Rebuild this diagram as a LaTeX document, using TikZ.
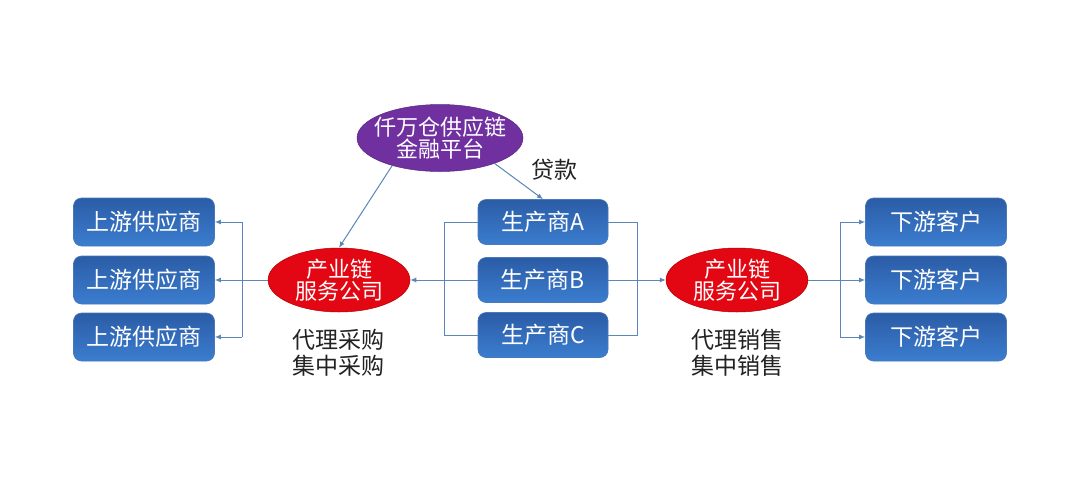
\documentclass[tikz,border=0pt]{standalone}
\usepackage{fontspec}
\setmainfont{Noto Sans CJK SC}
\usetikzlibrary{arrows.meta,shapes.geometric}
\definecolor{boxtop}{HTML}{2B5CA6}
\definecolor{boxbot}{HTML}{3B7DCF}
\definecolor{boxline}{HTML}{4A78B8}
\definecolor{conncol}{HTML}{5B86B8}
\definecolor{redfill}{HTML}{E30613}
\definecolor{purplefill}{HTML}{7030A0}
\definecolor{txtcol}{HTML}{222222}
\tikzset{
  x=1pt,y=-1pt,
  bluebox/.style={rectangle, rounded corners=8pt, top color=boxtop, bottom color=boxbot, draw=boxline, line width=0.6pt, minimum width=141pt, minimum height=48pt, text=white, font=\fontsize{23}{26}\selectfont, inner sep=0pt},
  prodbox/.style={bluebox, minimum width=130pt, minimum height=45pt},
  redell/.style={ellipse, fill=redfill, draw=red!70!black, line width=0.5pt, minimum width=142pt, minimum height=64pt, inner sep=0pt, text=white, font=\fontsize{22}{22}\selectfont, align=center},
  purpell/.style={ellipse, fill=purplefill, draw=purplefill!80!black, line width=0.5pt, minimum width=166pt, minimum height=67pt, inner sep=0pt},
  elltext/.style={text=white, font=\fontsize{22}{22}\selectfont, align=center, inner sep=0pt},
  lbl/.style={text=txtcol, font=\fontsize{23}{26}\selectfont, align=center, inner sep=0pt},
  conn/.style={draw=conncol, line width=1pt},
  arr/.style={conn, -{Latex[length=6pt,width=5pt]}},
}
\begin{document}
\begin{tikzpicture}
\useasboundingbox (0,0) rectangle (1080,482);
\fill[white] (0,0) rectangle (1080,482);
% upstream suppliers
\node[bluebox] (U1) at (144,222) {上游供应商};
\node[bluebox] (U2) at (144,280) {上游供应商};
\node[bluebox] (U3) at (144,337) {上游供应商};
% producers
\node[prodbox] (P1) at (543,222) {生产商A};
\node[prodbox] (P2) at (543,280) {生产商B};
\node[prodbox] (P3) at (543,335) {生产商C};
% downstream customers
\node[bluebox] (D1) at (936,222) {下游客户};
\node[bluebox] (D2) at (936,280) {下游客户};
\node[bluebox] (D3) at (936,337) {下游客户};
% service companies
\node[redell] (S1) at (339,280) {产业链\\服务公司};
\node[redell] (S2) at (737,280) {产业链\\服务公司};
% platform
\node[purpell] (F) at (440,138) {};
\node[elltext] (Ft) at (F.center) {仟万仓供应链\\金融平台};
% labels
\node[lbl] (T1) at (338,353) {代理采购\\集中采购};
\node[lbl] (T2) at (737,353) {代理销售\\集中销售};
\node[lbl] (T3) at (554,170) {贷款};
% bracket x positions
\coordinate (lbx) at (242,0);
\coordinate (pl) at (444,0);
\coordinate (pr) at (637,0);
\coordinate (rbx) at (840,0);
% left side
\draw[arr] (S1.west) -- (U2.east);
\draw[conn] (lbx |- U1.east) -- (lbx |- U3.east);
\draw[arr] (lbx |- U1.east) -- (U1.east);
\draw[arr] (lbx |- U3.east) -- (U3.east);
% producers left bracket
\draw[conn] (P1.west) -- (pl |- P1.west) -- (pl |- P3.west) -- (P3.west);
\draw[arr] (P2.west) -- (S1.east);
% producers right bracket
\draw[conn] (P1.east) -- (pr |- P1.east) -- (pr |- P3.east) -- (P3.east);
\draw[arr] (P2.east) -- (S2.west);
% right side
\draw[arr] (S2.east) -- (D2.west);
\draw[conn] (rbx |- D1.west) -- (rbx |- D3.west);
\draw[arr] (rbx |- D1.west) -- (D1.west);
\draw[arr] (rbx |- D3.west) -- (D3.west);
% platform arrows
\draw[arr] (F.-150) -- (S1.north);
\draw[arr] (F.-25) -- (P1.north);
\end{tikzpicture}
\end{document}
